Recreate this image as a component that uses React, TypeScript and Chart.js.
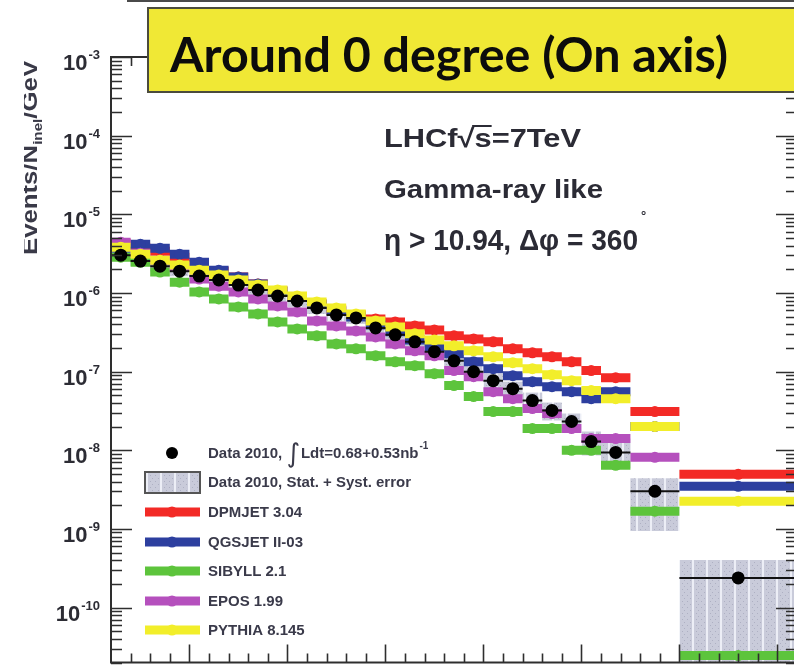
import React, { useEffect, useRef } from "react";
import { Chart, registerables } from "chart.js";

Chart.register(...registerables);

// Photon energy bins [GeV]
const binEdges = [
  100, 200, 300, 400, 500, 600, 700, 800, 900, 1000, 1100, 1200, 1300, 1400, 1500,
  1600, 1700, 1800, 1900, 2000, 2100, 2200, 2300, 2400, 2500, 2600, 2750, 3000, 3600,
];

// Measured spectrum (Events/N_inel/GeV)
const data2010 = [
  3.02e-6, 2.54e-6, 2.19e-6, 1.89e-6, 1.64e-6, 1.46e-6, 1.26e-6, 1.09e-6, 9.14e-7, 7.9e-7,
  6.44e-7, 5.25e-7, 4.81e-7, 3.59e-7, 2.93e-7, 2.39e-7, 1.79e-7, 1.37e-7, 9.97e-8, 7.66e-8,
  6.07e-8, 4.28e-8, 3.2e-8, 2.32e-8, 1.29e-8, 9.39e-9, 3.01e-9, 2.38e-10,
];
// Stat. + syst. error band limits
const sysUpper = [
  3.49e-6, 2.94e-6, 2.53e-6, 2.19e-6, 1.9e-6, 1.69e-6, 1.46e-6, 1.26e-6, 1.09e-6, 9.41e-7,
  7.67e-7, 6.25e-7, 5.73e-7, 4.28e-7, 3.49e-7, 2.85e-7, 2.19e-7, 1.68e-7, 1.22e-7, 9.39e-8,
  7.44e-8, 5.41e-8, 4.04e-8, 2.93e-8, 1.73e-8, 1.41e-8, 4.4e-9, 4.02e-10,
];
const sysLower = [
  2.61e-6, 2.2e-6, 1.89e-6, 1.63e-6, 1.42e-6, 1.26e-6, 1.09e-6, 9.42e-7, 7.67e-7, 6.63e-7,
  5.41e-7, 4.41e-7, 4.04e-7, 3.01e-7, 2.46e-7, 2.01e-7, 1.42e-7, 1.08e-7, 7.89e-8, 6.07e-8,
  4.81e-8, 3.2e-8, 2.39e-8, 1.73e-8, 8.58e-9, 5.89e-9, 9.4e-10, 1.0e-11,
];

// Model predictions
const dpmjet = [
  4.28e-6, 3.81e-6, 3.39e-6, 2.85e-6, 2.32e-6, 1.89e-6, 1.59e-6, 1.3e-6, 1.06e-6, 8.88e-7,
  7.24e-7, 6.07e-7, 5.25e-7, 4.67e-7, 4.28e-7, 3.81e-7, 3.39e-7, 2.85e-7, 2.6e-7, 2.39e-7,
  1.95e-7, 1.73e-7, 1.54e-7, 1.33e-7, 1.03e-7, 8.37e-8, 3.1e-8, 4.94e-9,
];
const qgsjet = [
  3.7e-6, 4.16e-6, 3.7e-6, 3.11e-6, 2.46e-6, 1.95e-6, 1.59e-6, 1.3e-6, 1.06e-6, 8.88e-7,
  7.24e-7, 5.9e-7, 4.95e-7, 3.92e-7, 3.2e-7, 2.53e-7, 2.07e-7, 1.68e-7, 1.33e-7, 1.09e-7,
  8.87e-8, 7.44e-8, 6.43e-8, 5.56e-8, 4.53e-8, 5.56e-8, 2.0e-8, 3.48e-9,
];
const sibyll = [
  2.85e-6, 2.46e-6, 1.84e-6, 1.37e-6, 1.03e-6, 8.38e-7, 6.63e-7, 5.41e-7, 4.28e-7, 3.49e-7,
  2.85e-7, 2.25e-7, 1.95e-7, 1.59e-7, 1.33e-7, 1.19e-7, 9.4e-8, 6.63e-8, 4.81e-8, 3.1e-8,
  3.1e-8, 1.89e-8, 1.89e-8, 9.96e-9, 9.96e-9, 6.43e-9, 1.68e-9, 2.45e-11,
];
// EPOS has no entry in the widest bin
const epos = [
  4.41e-6, 3.2e-6, 2.6e-6, 2.15e-6, 1.5e-6, 1.22e-6, 1.03e-6, 8.38e-7, 6.83e-7, 5.73e-7,
  4.41e-7, 3.81e-7, 3.29e-7, 2.76e-7, 2.25e-7, 1.84e-7, 1.59e-7, 1.03e-7, 8.61e-8, 5.56e-8,
  4.53e-8, 3.39e-8, 2.93e-8, 1.89e-8, 1.41e-8, 1.41e-8, 8.12e-9, null,
];
const pythia = [
  3.81e-6, 3.11e-6, 2.61e-6, 2.26e-6, 1.95e-6, 1.69e-6, 1.46e-6, 1.26e-6, 1.09e-6, 9.14e-7,
  7.67e-7, 6.44e-7, 5.41e-7, 4.41e-7, 3.7e-7, 3.02e-7, 2.53e-7, 2.13e-7, 1.84e-7, 1.54e-7,
  1.3e-7, 1.09e-7, 9.13e-8, 7.66e-8, 5.73e-8, 4.53e-8, 2.0e-8, 2.25e-9,
];

// Axis ranges and ticks
const xRange = [100, 3600];
const yRange = [2e-11, 1e-3];
const yTickExponents = [-3, -4, -5, -6, -7, -8, -9, -10];
const xMajorStep = 500;
const xMinorStep = 100;

const modelLabels = ["DPMJET 3.04", "QGSJET II-03", "SIBYLL 2.1", "EPOS 1.99", "PYTHIA 8.145"];
const modelColors = ["#f32a26", "#2d3f9f", "#5dc43c", "#b550bd", "#f2ee2a"];
const modelValues = [dpmjet, qgsjet, sibyll, epos, pythia];
// smaller order is painted later (on top)
const modelOrder = [5, 4, 3, 2, 1];

const FRAME = "#2e2e2e";
const TEXT = "#2c2c34";

function stepPoints(values: (number | null)[]) {
  const pts: { x: number; y: number | null }[] = [];
  values.forEach((v, i) => {
    if (v == null) return;
    const lo = binEdges[i];
    const hi = binEdges[i + 1];
    pts.push({ x: lo, y: v }, { x: (lo + hi) / 2, y: v }, { x: hi, y: v }, { x: hi, y: null });
  });
  return pts;
}

function hatchTile() {
  const c = document.createElement("canvas");
  c.width = 14;
  c.height = 6;
  const g = c.getContext("2d")!;
  g.fillStyle = "#c9cbda";
  g.fillRect(0, 0, 14, 6);
  g.fillStyle = "#aeb0c3";
  g.fillRect(1, 1, 1, 1);
  g.fillRect(4, 4, 1, 1);
  g.fillRect(10, 1, 1, 1);
  g.fillRect(12, 4, 1, 1);
  g.fillStyle = "#eceef6";
  g.fillRect(6, 0, 2, 6);
  return c;
}

function fitText(ctx: CanvasRenderingContext2D, text: string, x: number, y: number, font: string, width: number) {
  ctx.font = font;
  const w = ctx.measureText(text).width;
  ctx.save();
  ctx.translate(x, y);
  ctx.scale(width / w, 1);
  ctx.fillText(text, 0, 0);
  ctx.restore();
}

const overlay = {
  id: "lhcfOverlay",
  beforeDatasetsDraw(chart: any) {
    const { ctx, chartArea: a, scales } = chart;
    const x = scales.x;
    const y = scales.y;
    ctx.save();
    ctx.beginPath();
    ctx.rect(a.left, a.top, a.right - a.left, a.bottom - a.top);
    ctx.clip();
    ctx.fillStyle = ctx.createPattern(hatchTile(), "repeat");
    data2010.forEach((_, i) => {
      const x0 = x.getPixelForValue(binEdges[i]);
      const x1 = x.getPixelForValue(binEdges[i + 1]);
      const yt = y.getPixelForValue(sysUpper[i]);
      const yb = y.getPixelForValue(sysLower[i]);
      ctx.fillRect(x0, yt, x1 - x0, yb - yt);
    });
    ctx.restore();
  },
  beforeDatasetDraw(chart: any, args: any) {
    if (args.meta.label !== "Data 2010") return;
    const { ctx, chartArea: a, scales } = chart;
    const x = scales.x;
    const y = scales.y;
    ctx.save();
    ctx.beginPath();
    ctx.rect(a.left, a.top, a.right - a.left, a.bottom - a.top);
    ctx.clip();
    ctx.strokeStyle = "#111";
    ctx.lineWidth = 2;
    data2010.forEach((v, i) => {
      const py = y.getPixelForValue(v);
      ctx.beginPath();
      ctx.moveTo(x.getPixelForValue(binEdges[i]), py);
      ctx.lineTo(x.getPixelForValue(binEdges[i + 1]), py);
      ctx.stroke();
    });
    ctx.restore();
  },
  afterDraw(chart: any) {
    const { ctx, chartArea: a, scales } = chart;
    const x = scales.x;
    const y = scales.y;
    ctx.save();

    // frame
    ctx.strokeStyle = FRAME;
    ctx.lineWidth = 2;
    ctx.strokeRect(a.left, a.top, a.right - a.left, a.bottom - a.top);

    // y ticks (log)
    ctx.lineWidth = 1.6;
    for (let e = -11; e <= -3; e++) {
      for (let k = 1; k <= 9; k++) {
        const v = k * Math.pow(10, e);
        if (v < yRange[0] * 0.999 || v > yRange[1] * 1.001) continue;
        const py = Math.round(y.getPixelForValue(v)) + 0.5;
        const len = k === 1 ? 21 : 11;
        ctx.beginPath();
        ctx.moveTo(a.left, py);
        ctx.lineTo(a.left + len, py);
        ctx.moveTo(a.right, py);
        ctx.lineTo(a.right - len, py);
        ctx.stroke();
      }
    }
    // x ticks
    for (let v = xRange[0] + xMinorStep; v < xRange[1]; v += xMinorStep) {
      const px = Math.round(x.getPixelForValue(v)) + 0.5;
      const len = v % xMajorStep === 0 ? 18 : 9;
      ctx.beginPath();
      ctx.moveTo(px, a.bottom);
      ctx.lineTo(px, a.bottom - len);
      ctx.moveTo(px, a.top);
      ctx.lineTo(px, a.top + len);
      ctx.stroke();
    }

    // y tick labels 10^n
    ctx.fillStyle = TEXT;
    ctx.textAlign = "right";
    ctx.textBaseline = "alphabetic";
    yTickExponents.forEach((e) => {
      const py = y.getPixelForValue(Math.pow(10, e));
      ctx.font = "bold 13px 'Liberation Sans', Arial, sans-serif";
      const sup = "-" + String(-e);
      const sw = ctx.measureText(sup).width;
      ctx.fillText(sup, 100, py + 2);
      ctx.font = "bold 22px 'Liberation Sans', Arial, sans-serif";
      ctx.fillText("10", 100 - sw - 1, py + 13);
    });

    // y axis title (rotated, partly cut by the left margin)
    ctx.save();
    ctx.beginPath();
    ctx.rect(24, 40, 40, 240);
    ctx.clip();
    ctx.translate(37, 255);
    ctx.rotate(-Math.PI / 2);
    ctx.textAlign = "left";
    ctx.fillStyle = "#3a3a48";
    const big = "bold 22px 'Liberation Sans', Arial, sans-serif";
    const small = "bold 13px 'Liberation Sans', Arial, sans-serif";
    ctx.font = big;
    const p1 = "Events/N";
    const p3 = "/GeV";
    const w1 = ctx.measureText(p1).width;
    const w3 = ctx.measureText(p3).width;
    ctx.font = small;
    const w2 = ctx.measureText("inel").width;
    const s = 195 / (w1 + w2 + w3);
    ctx.scale(s, 1);
    ctx.font = big;
    ctx.fillText(p1, 0, 0);
    ctx.font = small;
    ctx.fillText("inel", w1, 5);
    ctx.font = big;
    ctx.fillText(p3, w1 + w2, 0);
    ctx.restore();

    // line along the top edge
    ctx.fillStyle = "#4a4a4a";
    ctx.fillRect(127, 0, 680, 2);

    // title box
    ctx.fillStyle = "#f0e835";
    ctx.fillRect(148, 8, 700, 84);
    ctx.strokeStyle = "#4b4b3c";
    ctx.lineWidth = 2;
    ctx.strokeRect(148, 8, 700, 84);
    ctx.fillStyle = "#0c0c0c";
    ctx.textAlign = "left";
    fitText(ctx, "Around 0 degree (On axis)", 170, 72, "bold 47px Lato, 'Open Sans', sans-serif", 558);

    // annotation
    ctx.fillStyle = "#2b2b35";
    const af = "bold 26px 'Liberation Sans', Arial, sans-serif";
    ctx.font = af;
    const a1 = "LHCf", a2 = "\u221A", a3 = "s", a4 = "=7TeV";
    const wa1 = ctx.measureText(a1).width;
    const wa2 = ctx.measureText(a2).width;
    const wa3 = ctx.measureText(a3).width;
    const wa4 = ctx.measureText(a4).width;
    const sa = 197 / (wa1 + wa2 + wa3 + wa4);
    ctx.save();
    ctx.translate(384, 147);
    ctx.scale(sa, 1);
    ctx.fillText(a1, 0, 0);
    ctx.fillText(a2, wa1, 0);
    ctx.fillText(a3, wa1 + wa2, 0);
    ctx.fillText(a4, wa1 + wa2 + wa3, 0);
    ctx.fillRect(wa1 + wa2 - 2, -22, wa3 + 2, 2);
    ctx.restore();
    fitText(ctx, "Gamma-ray like", 384, 198, af, 219);
    fitText(ctx, "\u03B7 > 10.94, \u0394\u03C6 = 360", 384, 250, "bold 29px 'Liberation Sans', Arial, sans-serif", 254);
    ctx.font = "bold 13px 'Liberation Sans', Arial, sans-serif";
    ctx.fillText("\u00B0", 641, 220);

    // legend
    const lx0 = 145, lx1 = 200, lxc = 172, tx = 208;
    const rows = [453, 482, 512, 542, 571, 601, 630];
    ctx.fillStyle = "#000";
    ctx.beginPath();
    ctx.arc(lxc, rows[0], 6, 0, Math.PI * 2);
    ctx.fill();
    ctx.fillStyle = ctx.createPattern(hatchTile(), "repeat");
    ctx.fillRect(lx0, rows[1] - 10, lx1 - lx0, 21);
    ctx.strokeStyle = "#555";
    ctx.lineWidth = 2;
    ctx.strokeRect(lx0, rows[1] - 10, lx1 - lx0, 21);
    modelColors.forEach((c, i) => {
      const ry = rows[i + 2];
      ctx.strokeStyle = c;
      ctx.lineWidth = 9;
      ctx.beginPath();
      ctx.moveTo(lx0, ry);
      ctx.lineTo(lx1, ry);
      ctx.stroke();
      ctx.fillStyle = c;
      ctx.beginPath();
      ctx.arc(lxc, ry, 5.5, 0, Math.PI * 2);
      ctx.fill();
    });
    ctx.fillStyle = "#3a3a4a";
    const lf = "bold 15px 'Liberation Sans', Arial, sans-serif";
    ctx.font = lf;
    let cx = tx;
    const d1 = "Data 2010, ";
    ctx.fillText(d1, cx, rows[0] + 5);
    cx += ctx.measureText(d1).width;
    ctx.font = "26px 'DejaVu Sans', sans-serif";
    ctx.fillText("\u222B", cx, rows[0] + 9);
    cx += ctx.measureText("\u222B").width + 1;
    ctx.font = lf;
    const d2 = "Ldt=0.68+0.53nb";
    ctx.fillText(d2, cx, rows[0] + 5);
    cx += ctx.measureText(d2).width + 1;
    ctx.font = "bold 10px 'Liberation Sans', Arial, sans-serif";
    ctx.fillText("-1", cx, rows[0] - 4);
    ctx.font = lf;
    ctx.fillText("Data 2010, Stat. + Syst. error", tx, rows[1] + 5);
    modelLabels.forEach((t, i) => ctx.fillText(t, tx, rows[i + 2] + 5));

    ctx.restore();
  },
};

export default function App() {
  const ref = useRef<HTMLCanvasElement | null>(null);

  useEffect(() => {
    if (!ref.current) return;
    const datasets: any[] = [
      {
        label: "Data 2010",
        data: data2010.map((v, i) => ({ x: (binEdges[i] + binEdges[i + 1]) / 2, y: v })),
        pointRadius: 6.5,
        pointBackgroundColor: "#000",
        pointBorderWidth: 0,
        showLine: false,
        order: 0,
      },
    ];
    modelValues.forEach((vals, i) => {
      datasets.push({
        label: modelLabels[i],
        data: stepPoints(vals),
        showLine: true,
        spanGaps: false,
        borderColor: modelColors[i],
        borderWidth: 9,
        borderCapStyle: "butt",
        pointRadius: (c: any) => (c.dataIndex % 4 === 1 ? 5.5 : 0),
        pointBackgroundColor: modelColors[i],
        pointBorderWidth: 0,
        order: modelOrder[i],
      });
    });
    const chart = new Chart(ref.current, {
      type: "scatter",
      data: { datasets },
      options: {
        animation: false,
        responsive: false,
        maintainAspectRatio: false,
        devicePixelRatio: 1,
        events: [],
        layout: { padding: { left: 111, top: 57, right: 23, bottom: 4 } },
        scales: {
          x: { type: "linear", min: xRange[0], max: xRange[1], display: false },
          y: { type: "logarithmic", min: yRange[0], max: yRange[1], display: false },
        },
        plugins: {
          legend: { display: false },
          tooltip: { enabled: false },
          title: { display: false },
        },
      } as any,
      plugins: [overlay],
    });
    return () => chart.destroy();
  }, []);

  return (
    <div
      style={{
        position: "fixed",
        left: 0,
        top: 0,
        width: 794,
        height: 669,
        overflow: "hidden",
        background: "#fff",
      }}
    >
      <canvas ref={ref} width={820} height={669} style={{ width: 820, height: 669, display: "block" }} />
    </div>
  );
}
